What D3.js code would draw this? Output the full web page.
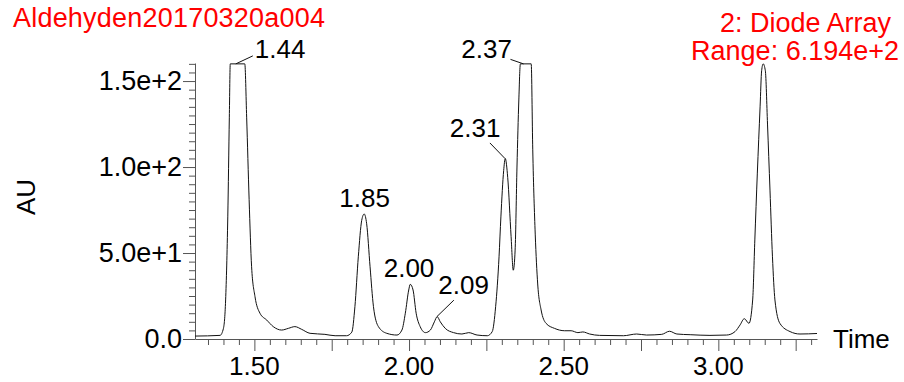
<!DOCTYPE html>
<html>
<head>
<meta charset="utf-8">
<script src="https://cdn.jsdelivr.net/npm/d3@7"></script>
<style>
  body { margin: 0; background: #fff; }
  text { font-family: "Liberation Sans", Arial, sans-serif; }
</style>
</head>
<body>
<svg width="904" height="382"></svg>
<script>
// retention time (min) and detector response (AU)
const timeValues = [1.308, 1.389, 1.400, 1.407, 1.414, 1.419, 1.422, 1.469, 1.475, 1.483, 1.491, 1.502,
  1.518, 1.540, 1.561, 1.588, 1.610, 1.631, 1.653, 1.680, 1.728, 1.761, 1.798, 1.815, 1.825, 1.836,
  1.847, 1.855, 1.863, 1.874, 1.885, 1.901, 1.928, 1.961, 1.977, 1.988, 1.999, 2.004, 2.013, 2.023,
  2.036, 2.053, 2.069, 2.082, 2.091, 2.101, 2.117, 2.144, 2.171, 2.193, 2.220, 2.253, 2.269, 2.280,
  2.291, 2.297, 2.306, 2.311, 2.319, 2.330, 2.337, 2.343, 2.349, 2.355, 2.360, 2.395, 2.400, 2.408,
  2.416, 2.427, 2.443, 2.470, 2.503, 2.524, 2.546, 2.562, 2.584, 2.616, 2.693, 2.736, 2.768, 2.817,
  2.842, 2.866, 2.909, 2.973, 3.027, 3.054, 3.070, 3.084, 3.099, 3.111, 3.118, 3.126, 3.135, 3.140,
  3.145, 3.152, 3.159, 3.167, 3.175, 3.183, 3.199, 3.232, 3.264, 3.319];
const auValues = [1.7, 2.1, 6.2, 22.7, 71, 129, 160, 160, 129, 81, 42, 24.6,
  15, 11, 7.2, 5.2, 6.2, 7.2, 5.6, 3.3, 2.7, 1.9, 1.9, 4.0, 18.8, 47.8,
  69, 72.7, 67, 42, 18.8, 7.2, 3.3, 2.3, 5.2, 15, 28.5, 31.8, 28.5, 15,
  7.2, 3.7, 5.2, 10, 13, 10, 6.2, 3.7, 2.9, 3.7, 2.3, 1.9, 4.3, 18.8,
  47.8, 71, 98, 105, 94, 59.5, 40, 51.7, 100, 139, 160, 160, 110, 61,
  32, 16.9, 9.1, 6.2, 4.8, 4.8, 3.7, 4.1, 2.9, 2.1, 1.9, 2.9, 2.3, 2.7,
  4.5, 2.9, 2.5, 2.1, 2.3, 4.3, 8.1, 11.8, 9.1, 22.7, 57.6, 96, 135, 156,
  160, 156, 125, 86.6, 47.8, 22.7, 9.1, 4.3, 2.9, 3.2];

// labelled peaks: retention time and height
const peakTimes = [1.44, 1.85, 2.00, 2.09, 2.31, 2.37];
const peakHeights = [160, 72.7, 31.8, 13, 105, 160];

// axis ticks
const xTicks = [1.5, 2.0, 2.5, 3.0];
const xTickLabels = ['1.50', '2.00', '2.50', '3.00'];
const yTicks = [0, 50, 100, 150];
const yTickLabels = ['0.0', '5.0e+1', '1.0e+2', '1.5e+2'];

const svg = d3.select('svg');

const x = d3.scaleLinear().domain([1.308, 3.319]).range([195, 817]);
const y = d3.scaleLinear().domain([0, 160.5]).range([339, 63]);

// header text in red
svg.append('text').attr('x', 13).attr('y', 27)
  .attr('font-size', 27).attr('fill', '#ff0000')
  .attr('textLength', 312).attr('lengthAdjust', 'spacing')
  .text('Aldehyden20170320a004');
svg.append('text').attr('x', 891).attr('y', 31.5)
  .attr('font-size', 27).attr('fill', '#ff0000').attr('text-anchor', 'end')
  .text('2: Diode Array');
svg.append('text').attr('x', 899).attr('y', 59.5)
  .attr('font-size', 27).attr('fill', '#ff0000').attr('text-anchor', 'end')
  .text('Range: 6.194e+2');

// x axis: short tick every 0.05, long every 0.25, labels every 0.5
const xAxis = d3.axisBottom(x)
  .tickValues(d3.range(27, 67).map(i => i * 0.05))
  .tickSize(6)
  .tickSizeOuter(0)
  .tickFormat('');
const gx = svg.append('g').attr('transform', 'translate(0,339)').call(xAxis);
gx.selectAll('.tick line')
  .attr('y2', d => Math.abs(d / 0.25 - Math.round(d / 0.25)) < 1e-6 ? 12 : 6);
gx.selectAll('line, path').attr('stroke', '#555');

svg.selectAll('.xlab').data(xTicks).join('text')
  .attr('class', 'xlab')
  .attr('x', d => x(d)).attr('y', 375)
  .attr('font-size', 26).attr('text-anchor', 'middle')
  .text((d, i) => xTickLabels[i]);

// y axis: minor tick every 5
const yAxis = d3.axisLeft(y)
  .tickValues(d3.range(0, 33).map(i => i * 5))
  .tickSize(6)
  .tickSizeOuter(0)
  .tickFormat('');
const gy = svg.append('g').attr('transform', 'translate(195,0)').call(yAxis);
gy.selectAll('.tick line').attr('x2', d => d % 50 === 0 ? -12 : -6);
gy.selectAll('line, path').attr('stroke', '#555');

svg.selectAll('.ylab').data(yTicks).join('text')
  .attr('class', 'ylab')
  .attr('x', 182).attr('y', d => y(d) + 9.3)
  .attr('font-size', 27).attr('text-anchor', 'end')
  .text((d, i) => yTickLabels[i]);

// axis titles
svg.append('text')
  .attr('transform', 'translate(34.5,197) rotate(-90)')
  .attr('font-size', 26).attr('text-anchor', 'middle')
  .text('AU');
svg.append('text').attr('x', 833).attr('y', 348)
  .attr('font-size', 26)
  .text('Time');

// the chromatogram trace
const line = d3.line()
  .x(d => x(d[0]))
  .y(d => y(d[1]))
  .curve(d3.curveMonotoneX);
svg.append('path')
  .datum(d3.zip(timeValues, auValues))
  .attr('d', line)
  .attr('fill', 'none')
  .attr('stroke', '#111')
  .attr('stroke-width', 1);

// where each peak label sits relative to its peak (pixels), and its leader line if any
const labelPlace = {
  '1.44': { dx: 19, dy: -6, anchor: 'start', lead: [17, -8] },
  '1.85': { dx: 2, dy: -7, anchor: 'middle' },
  '2.00': { dx: 0, dy: -7, anchor: 'middle' },
  '2.09': { dx: 1.5, dy: -22.5, anchor: 'start', lead: [17, -16.5] },
  '2.31': { dx: -4.5, dy: -21, anchor: 'end', lead: [-15, -15.5] },
  '2.37': { dx: -11.5, dy: -6, anchor: 'end', lead: [-13, -4.5] }
};

peakTimes.forEach((t, i) => {
  const key = t.toFixed(2);
  const p = labelPlace[key];
  const px = x(t), py = y(peakHeights[i]);
  if (p.lead) {
    svg.append('line')
      .attr('x1', px).attr('y1', py)
      .attr('x2', px + p.lead[0]).attr('y2', py + p.lead[1])
      .attr('stroke', '#111').attr('stroke-width', 1);
  }
  svg.append('text')
    .attr('x', px + p.dx).attr('y', py + p.dy)
    .attr('font-size', 26).attr('text-anchor', p.anchor)
    .text(key);
});
</script>
</body>
</html>
